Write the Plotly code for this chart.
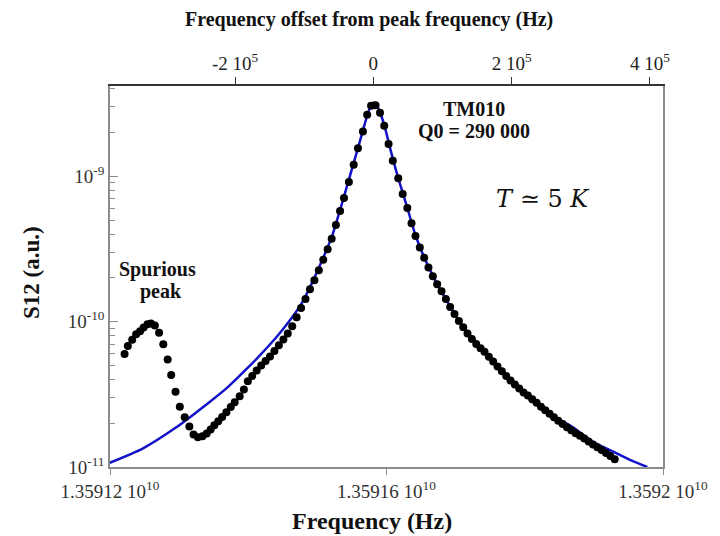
import plotly.graph_objects as go

# Resonance peak frequency and span of the frequency axis (Hz)
PEAK_FREQ_HZ = 1.3591581e10
FREQ_MIN_HZ = 1.35912e10
FREQ_MAX_HZ = 1.35920e10

# Measured transmission S12 versus offset from the peak (kHz)
meas_offset_khz = [
    -359.9, -355.2, -348.9, -343.2, -337.5, -332.4, -326.7, -321.8, -316.1, -310.0,
    -303.9, -297.6, -292.5, -286.2, -280.0, -272.9, -266.2, -260.1, -253.9, -247.2,
    -241.1, -235.4, -230.1, -224.4, -218.7, -212.6, -206.3, -200.6, -193.4, -187.3,
    -181.6, -175.2, -168.8, -162.3, -155.9, -149.5, -143.1, -136.7, -130.2, -123.8,
    -117.4, -111.0, -104.6, -98.2, -91.7, -85.3, -78.9, -72.5, -66.1, -60.3,
    -54.2, -48.2, -42.5, -35.4, -28.5, -22.3, -15.1, -9.0, -3.3, 3.1,
    9.6, 15.7, 22.0, 28.1, 36.0, 42.4, 49.1, 55.2, 60.9,
    67.2, 73.5, 79.7, 86.0, 92.3, 98.6, 104.9, 111.1, 117.4, 123.7,
    130.0, 136.2, 142.5, 148.8, 155.1, 160.8, 167.1, 173.3, 179.6, 185.9,
    192.2, 198.4, 204.7, 211.0, 217.3, 223.5, 229.8, 236.1, 242.4, 248.7,
    254.9, 261.2, 267.5, 273.8, 280.0, 286.3, 292.6, 298.9, 305.1, 311.4,
    317.7, 324.0, 330.3, 336.5, 342.8, 349.1,
]
meas_s12 = [
    6.0e-11, 6.8e-11, 7.5e-11, 8.2e-11, 8.6e-11, 9.1e-11, 9.6e-11, 9.7e-11, 9.4e-11, 8.4e-11,
    7.0e-11, 5.5e-11, 4.3e-11, 3.3e-11, 2.6e-11, 2.2e-11, 1.9e-11, 1.67e-11, 1.6e-11, 1.63e-11,
    1.70e-11, 1.81e-11, 1.94e-11, 2.06e-11, 2.21e-11, 2.38e-11, 2.59e-11, 2.79e-11, 3.07e-11, 3.41e-11,
    3.89e-11, 4.23e-11, 4.61e-11, 5.0e-11, 5.37e-11, 5.76e-11, 6.29e-11, 6.87e-11, 7.55e-11, 8.3e-11,
    9.28e-11, 1.07e-10, 1.24e-10, 1.43e-10, 1.67e-10, 1.93e-10, 2.26e-10, 2.67e-10, 3.15e-10, 3.72e-10,
    4.62e-10, 5.76e-10, 7.08e-10, 9.14e-10, 1.20e-9, 1.56e-9, 2.03e-9, 2.65e-9, 3.05e-9, 3.08e-9,
    2.73e-9, 2.23e-9, 1.67e-9, 1.28e-9, 9.70e-10, 7.55e-10, 6.06e-10, 4.76e-10, 3.89e-10,
    3.23e-10, 2.75e-10, 2.36e-10, 2.05e-10, 1.81e-10, 1.62e-10, 1.43e-10, 1.26e-10, 1.13e-10, 1.01e-10,
    9.14e-11, 8.30e-11, 7.61e-11, 7.03e-11, 6.56e-11, 6.20e-11, 5.74e-11, 5.32e-11, 4.92e-11, 4.56e-11,
    4.22e-11, 3.94e-11, 3.70e-11, 3.47e-11, 3.25e-11, 3.10e-11, 2.93e-11, 2.77e-11, 2.60e-11, 2.46e-11,
    2.32e-11, 2.20e-11, 2.08e-11, 1.98e-11, 1.88e-11, 1.79e-11, 1.71e-11, 1.64e-11, 1.57e-11, 1.50e-11,
    1.43e-11, 1.37e-11, 1.31e-11, 1.25e-11, 1.19e-11, 1.13e-11,
]

# Lorentzian fit of the TM010 resonance
fit_offset_khz = [
    -381.3, -333.8, -286.2, -238.7, -210.1, -181.6, -167.3, -138.8, -117.4, -103.1,
    -88.9, -74.6, -60.3, -46.1, -31.8, -21.8, -13.3, -6.1, 0.3, 6.7,
    15.3, 25.3, 35.2, 46.6, 60.9, 75.2, 89.4, 110.8, 132.2, 153.6,
    175.0, 203.6, 232.1, 264.9, 289.2, 317.7, 346.2, 374.8, 396.2,
]
fit_s12 = [
    1.07e-11, 1.34e-11, 1.86e-11, 2.76e-11, 3.56e-11, 4.82e-11, 5.65e-11, 7.96e-11, 1.07e-10, 1.35e-10,
    1.84e-10, 2.61e-10, 3.81e-10, 6.34e-10, 1.09e-9, 1.59e-9, 2.22e-9, 2.87e-9, 3.20e-9, 2.96e-9,
    2.29e-9, 1.49e-9, 1.00e-9, 6.65e-10, 3.94e-10, 2.65e-10, 1.93e-10, 1.28e-10, 8.85e-11, 6.76e-11,
    5.24e-11, 3.81e-11, 2.91e-11, 2.18e-11, 1.87e-11, 1.49e-11, 1.28e-11, 1.10e-11, 1.0e-11,
]

# Tick positions and labels
bottom_tickvals = [1.35912e10, 1.35916e10, 1.35920e10]
bottom_ticktext = ["1.35912 10<sup>10</sup>", "1.35916 10<sup>10</sup>", "1.3592 10<sup>10</sup>"]
top_tickvals = [-2e5, 0, 2e5, 4e5]
top_ticktext = ["-2 10<sup>5</sup>", "0", "2 10<sup>5</sup>", "4 10<sup>5</sup>"]
y_tickvals = [1e-11, 1e-10, 1e-9]
y_ticktext = ["10<sup>-11</sup>", "10<sup>-10</sup>", "10<sup>-9</sup>"]
y_minor_vals = [m * 10.0 ** e for e in (-11, -10, -9) for m in range(2, 10)]

SERIF = "Liberation Serif, Times New Roman, serif"
AXIS_GRAY = "#8c8c8c"

fig = go.Figure()

fig.add_trace(go.Scatter(
    x=[PEAK_FREQ_HZ + k * 1e3 for k in fit_offset_khz],
    y=fit_s12,
    mode="lines",
    line=dict(color="#1212c8", width=2.5, shape="spline", smoothing=0.6),
    xaxis="x", yaxis="y", hoverinfo="skip",
))

fig.add_trace(go.Scatter(
    x=[k * 1e3 for k in meas_offset_khz],
    y=meas_s12,
    mode="markers",
    marker=dict(color="black", size=8),
    xaxis="x2", yaxis="y",
))

fig.update_layout(
    width=720, height=536,
    margin=dict(l=110, r=49, t=86, b=69),
    paper_bgcolor="white", plot_bgcolor="white",
    showlegend=False,
    font=dict(family=SERIF, color="#222", size=19),
    xaxis=dict(
        range=[FREQ_MIN_HZ, FREQ_MAX_HZ],
        tickmode="array", tickvals=bottom_tickvals, ticktext=bottom_ticktext,
        ticks="outside", ticklen=6, tickcolor=AXIS_GRAY, tickwidth=1,
        showline=True, linecolor=AXIS_GRAY, linewidth=1.5,
        showgrid=False, zeroline=False,
        tickfont=dict(family=SERIF, size=19, color="#333"),
    ),
    xaxis2=dict(
        overlaying="x", side="top", anchor="y",
        range=[FREQ_MIN_HZ - PEAK_FREQ_HZ, FREQ_MAX_HZ - PEAK_FREQ_HZ],
        tickmode="array", tickvals=top_tickvals, ticktext=top_ticktext,
        ticks="outside", ticklen=7, tickcolor="#333", tickwidth=1,
        showline=True, linecolor="#333", linewidth=1.5,
        showgrid=False, zeroline=False,
        tickfont=dict(family=SERIF, size=19, color="#222"),
    ),
    yaxis=dict(
        type="log", range=[-11, -8.379],
        tickmode="array", tickvals=y_tickvals, ticktext=y_ticktext,
        ticks="inside", ticklen=8, tickcolor=AXIS_GRAY, tickwidth=1,
        minor=dict(tickmode="array", tickvals=y_minor_vals, ticks="inside",
                   ticklen=5, tickcolor=AXIS_GRAY, tickwidth=1, showgrid=False),
        showline=True, linecolor=AXIS_GRAY, linewidth=1.5, mirror=True,
        showgrid=False, zeroline=False,
        tickfont=dict(family=SERIF, size=19, color="#333"),
    ),
)

bold = dict(family=SERIF, color="#111")
annotations = [
    # axis titles
    dict(text="<b>Frequency (Hz)</b>", xref="paper", yref="paper", x=0.4744, y=-0.1408,
         font=dict(bold, size=24)),
    dict(text="<b>Frequency offset from peak frequency (Hz)</b>", xref="paper", yref="paper",
         x=0.468, y=1.1757, font=dict(bold, size=20)),
    dict(text="<b>S12 (a.u.)</b>", xref="paper", yref="paper", x=-0.1409, y=0.5096,
         textangle=-90, font=dict(bold, size=23)),
    # in-plot labels
    dict(text="<b>Spurious</b>", xref="x2", yref="y", x=-312.9e3, y=-9.639,
         font=dict(bold, size=20)),
    dict(text="<b>peak</b>", xref="x2", yref="y", x=-307.2e3, y=-9.791,
         font=dict(bold, size=20)),
    dict(text="<b>TM010</b>", xref="x2", yref="y", x=145.8e3, y=-8.536,
         font=dict(bold, size=20)),
    dict(text="<b>Q0 = 290 000</b>", xref="x2", yref="y", x=145.1e3, y=-8.686,
         font=dict(bold, size=20)),
    dict(text="<i>T</i> \u2243 5 <i>K</i>", xref="x2", yref="y", x=245.7e3, y=-9.157,
         font=dict(family="DejaVu Serif, serif", size=24, color="#111")),
]
for a in annotations:
    a.update(showarrow=False, xanchor="center", yanchor="middle")
fig.update_layout(annotations=annotations)

fig.write_html("out.html")
